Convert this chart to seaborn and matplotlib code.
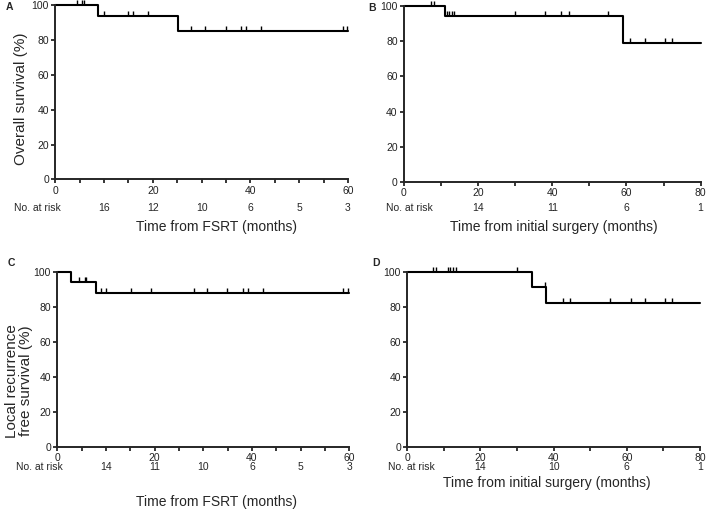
import numpy as np
import matplotlib
matplotlib.use("Agg")
import matplotlib.pyplot as plt
from matplotlib.ticker import MultipleLocator
import seaborn as sns

# Kaplan-Meier step data (time in months, survival %)
a_times = [0, 8.8, 25.1, 60]
a_surv = [100, 94.1, 85.5, 85.5]
a_cens = [4.4, 5.5, 5.8, 10.0, 15.0, 15.9, 19.1, 27.9, 30.6, 34.9, 38.0, 39.2, 42.2, 58.9, 59.7]

b_times = [0, 11.1, 59.0, 80]
b_surv = [100, 94.1, 79.0, 79.0]
b_cens = [7.2, 8.0, 11.7, 12.2, 12.9, 13.4, 29.9, 38.0, 42.4, 44.4, 55.1, 61.0, 65.0, 70.3, 72.2]

c_times = [0, 2.9, 7.9, 60]
c_surv = [100, 94.7, 88.2, 88.2]
c_cens = [4.45, 5.7, 5.9, 9.0, 10.0, 15.1, 19.2, 28.1, 30.7, 34.9, 38.2, 39.2, 42.3, 58.8, 59.7]

d_times = [0, 34.0, 38.0, 80]
d_surv = [100, 91.7, 82.5, 82.5]
d_cens = [7.0, 7.9, 11.2, 11.8, 12.4, 13.2, 29.9, 37.6, 42.5, 44.5, 55.3, 61.2, 65.1, 70.4, 72.3]

# numbers at risk
a_risk_t = [10, 20, 30, 40, 50, 60]
a_risk_n = [16, 12, 10, 6, 5, 3]
b_risk_t = [20, 40, 60, 80]
b_risk_n = [14, 11, 6, 1]
c_risk_t = [10, 20, 30, 40, 50, 60]
c_risk_n = [14, 11, 10, 6, 5, 3]
d_risk_t = [20, 40, 60, 80]
d_risk_n = [14, 10, 6, 1]

sns.set_style("ticks")
plt.rcParams['font.family'] = ['Liberation Sans', 'DejaVu Sans']

fig = plt.figure(figsize=(7.08, 5.11), dpi=100)

panels = [
    # letter, times, surv, cens, risk_t, risk_n, xmax, minor, rect, xlabel, xlab_x, xlab_y, risk_y, risk_lbl_x
    ("A", a_times, a_surv, a_cens, a_risk_t, a_risk_n, 60, 5,
     [0.078, 0.649, 0.4135, 0.3405], "Time from FSRT (months)", 0.551, -0.274, -0.165, -3.75),
    ("B", b_times, b_surv, b_cens, b_risk_t, b_risk_n, 80, 10,
     [0.5706, 0.6438, 0.419, 0.345], "Time from initial surgery (months)", 0.504, -0.257, -0.146, 1.4),
    ("C", c_times, c_surv, c_cens, c_risk_t, c_risk_n, 60, 5,
     [0.0809, 0.1252, 0.4125, 0.342], "Time from FSRT (months)", 0.546, -0.313, -0.116, -3.6),
    ("D", d_times, d_surv, d_cens, d_risk_t, d_risk_n, 80, 10,
     [0.5753, 0.1252, 0.4134, 0.3425], "Time from initial surgery (months)", 0.478, -0.204, -0.116, 1.0),
]

for (letter, times, surv, cens, rt, rn, xmax, minor, rect,
     xlabel, lx, ly, ry, rlx) in panels:
    ax = fig.add_axes(rect)
    sns.lineplot(x=times, y=surv, drawstyle='steps-post', color='black',
                 linewidth=1.5, ax=ax, clip_on=False)
    # censor marks
    idx = np.searchsorted(times, cens, side='right') - 1
    cy = np.array(surv)[idx]
    ax.plot(cens, cy, linestyle='none', marker=2, markersize=3.5,
            markeredgewidth=1.0, color='black', clip_on=False)

    ax.set_xlim(0, xmax)
    ax.set_ylim(0, 100)
    ax.xaxis.set_major_locator(MultipleLocator(20))
    ax.xaxis.set_minor_locator(MultipleLocator(minor))
    ax.yaxis.set_major_locator(MultipleLocator(20))
    ax.tick_params(axis='both', which='both', length=3, width=1.1,
                   labelsize=7.5, pad=1.5, color='black', labelcolor='#222222')
    for sp in ['left', 'bottom']:
        ax.spines[sp].set_linewidth(1.4)
    sns.despine(ax=ax)

    ax.set_xlabel(xlabel, fontsize=10)
    ax.xaxis.set_label_coords(lx, ly)
    ax.xaxis.label.set_va('center')

    tr = ax.get_xaxis_transform()
    ax.text(rlx, ry, "No. at risk", transform=tr, ha='center', va='center', fontsize=7.5)
    for t, n in zip(rt, rn):
        ax.text(t, ry, str(n), transform=tr, ha='center', va='center', fontsize=7.5)

    if letter == "A":
        ax.set_ylabel("Overall survival (%)", fontsize=11)
        ax.yaxis.set_label_coords(-0.117, 0.463)
    elif letter == "C":
        ax.set_ylabel("Local recurrence\nfree survival (%)", fontsize=11, linespacing=1.0)
        ax.yaxis.set_label_coords(-0.13, 0.379)
    else:
        ax.set_ylabel("")
    ax.yaxis.label.set_va('center')

    fig.text(rect[0] - 0.07 if letter in "AC" else rect[0] - 0.05,
             rect[1] + rect[3] - 0.004 if letter in "AB" else rect[1] + rect[3] + 0.018,
             letter, fontsize=7.5, fontweight='bold', ha='left', va='center')

fig.savefig("out.png", dpi=100)
